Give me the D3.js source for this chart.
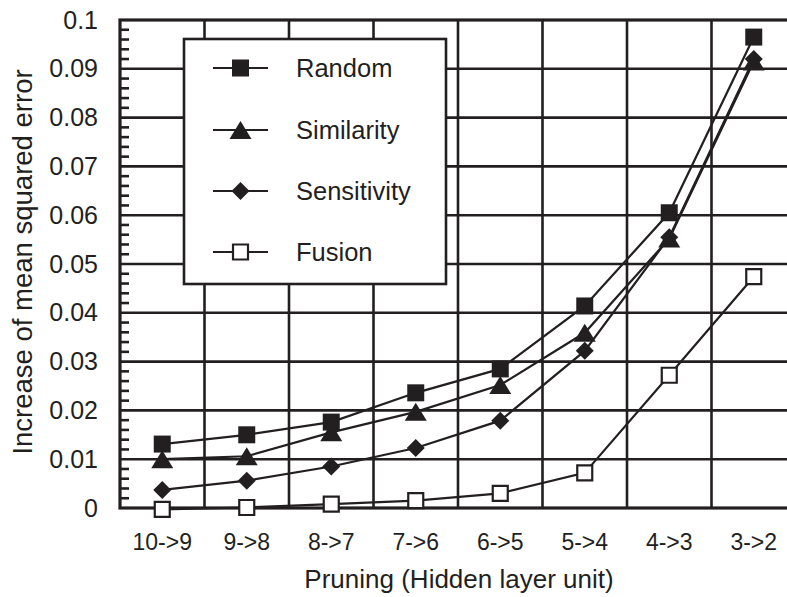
<!DOCTYPE html>
<html>
<head>
<meta charset="utf-8">
<script src="https://cdn.jsdelivr.net/npm/d3@7"></script>
<style>
  body { margin: 0; background: #fff; }
  text { font-family: "Liberation Sans", Arial, sans-serif; fill: #231f20; }
</style>
</head>
<body>
<div id="chart"></div>
<script>
var width = 787;
var height = 597;
var ink = "#231f20";

var categories = ["10->9", "9->8", "8->7", "7->6", "6->5", "5->4", "4->3", "3->2"];
var yTicks = [0, 0.01, 0.02, 0.03, 0.04, 0.05, 0.06, 0.07, 0.08, 0.09, 0.1];
var yTickLabels = ["0", "0.01", "0.02", "0.03", "0.04", "0.05", "0.06", "0.07", "0.08", "0.09", "0.1"];

var randomVals = [0.0131, 0.0150, 0.0176, 0.0236, 0.0285, 0.0414, 0.0605, 0.0965];
var similarityVals = [0.0100, 0.0106, 0.0155, 0.0197, 0.0252, 0.0359, 0.0552, 0.0915];
var sensitivityVals = [0.0037, 0.0056, 0.0085, 0.0123, 0.0179, 0.0322, 0.0555, 0.0920];
var fusionVals = [-0.0003, 0.0001, 0.0008, 0.0015, 0.0030, 0.0072, 0.0272, 0.0474];

var seriesNames = ["Random", "Similarity", "Sensitivity", "Fusion"];
var seriesMarks = ["square", "triangle", "diamond", "open"];
var seriesVals = [randomVals, similarityVals, sensitivityVals, fusionVals];

var plotLeft = 120, plotRight = 796, plotTop = 20, plotBottom = 508;

var x = d3.scalePoint().domain(categories).range([plotLeft, plotRight]).padding(0.5);
var y = d3.scaleLinear().domain([0, 0.1]).range([plotBottom, plotTop]);
var step = x.step();

var svg = d3.select("#chart").append("svg")
  .attr("width", width)
  .attr("height", height);

// grid lines
var grid = svg.append("g").attr("stroke", ink).attr("stroke-width", 2.6);
grid.selectAll("line.h")
  .data(yTicks.slice(1, -1))
  .enter()
  .append("line")
  .attr("x1", plotLeft).attr("x2", plotRight)
  .attr("y1", function(d) { return y(d); })
  .attr("y2", function(d) { return y(d); });
grid.selectAll("line.v")
  .data(categories.slice(0, -1))
  .enter()
  .append("line")
  .attr("x1", function(d) { return x(d) + step / 2; })
  .attr("x2", function(d) { return x(d) + step / 2; })
  .attr("y1", plotTop).attr("y2", plotBottom);

// minor ticks on the left axis
var minor = d3.range(0, 0.1001, 0.002).filter(function(v) { return Math.round(v * 1000) % 10 != 0; });
grid.selectAll("line.m")
  .data(minor)
  .enter()
  .append("line")
  .attr("x1", plotLeft).attr("x2", plotLeft + 9)
  .attr("y1", function(d) { return y(d); })
  .attr("y2", function(d) { return y(d); });

// frame
svg.append("rect")
  .attr("x", plotLeft).attr("y", plotTop)
  .attr("width", plotRight - plotLeft).attr("height", plotBottom - plotTop)
  .attr("fill", "none").attr("stroke", ink).attr("stroke-width", 3.2);

// y tick labels
svg.selectAll("text.yt")
  .data(yTicks)
  .enter()
  .append("text")
  .attr("x", 98)
  .attr("y", function(d) { return y(d) + 8.5; })
  .attr("text-anchor", "end")
  .attr("font-size", "25px")
  .text(function(d, i) { return yTickLabels[i]; });

// x tick labels
svg.selectAll("text.xt")
  .data(categories)
  .enter()
  .append("text")
  .attr("x", function(d) { return x(d); })
  .attr("y", 550)
  .attr("text-anchor", "middle")
  .attr("font-size", "23px")
  .text(function(d) { return d; });

svg.append("text")
  .attr("x", 459).attr("y", 588)
  .attr("text-anchor", "middle")
  .attr("font-size", "26px")
  .text("Pruning (Hidden layer unit)");

svg.append("text")
  .attr("transform", "translate(32," + ((plotTop + plotBottom) / 2 - 2) + ") rotate(-90)")
  .attr("text-anchor", "middle")
  .attr("font-size", "27.5px")
  .text("Increase of mean squared error");

function markPath(kind) {
  if (kind == "square") {
    return "M-8.5,-8.5H8.5V8.5H-8.5Z";
  } else if (kind == "open") {
    return "M-7.5,-7.5H7.5V7.5H-7.5Z";
  } else if (kind == "triangle") {
    return "M0,-9L11,9L-11,9Z";
  } else {
    return "M0,-9L9,0L0,9L-9,0Z";
  }
}

function drawMark(g, kind, cx, cy) {
  var p = g.append("path")
    .attr("d", markPath(kind))
    .attr("transform", "translate(" + cx + "," + cy + ")");
  if (kind == "open") {
    p.attr("fill", "#fff").attr("stroke", ink).attr("stroke-width", 2.2);
  } else {
    p.attr("fill", ink);
  }
}

var line = d3.line()
  .x(function(d, i) { return x(categories[i]); })
  .y(function(d) { return y(d); });

var plot = svg.append("g");
seriesVals.forEach(function(vals, s) {
  plot.append("path")
    .attr("d", line(vals))
    .attr("fill", "none")
    .attr("stroke", ink)
    .attr("stroke-width", 2.2);
});
seriesVals.forEach(function(vals, s) {
  vals.forEach(function(v, i) {
    drawMark(plot, seriesMarks[s], x(categories[i]), y(v));
  });
});

// legend
var legend = svg.append("g");
legend.append("rect")
  .attr("x", 184).attr("y", 39)
  .attr("width", 262).attr("height", 245)
  .attr("fill", "#fff").attr("stroke", ink).attr("stroke-width", 2.6);

var legendRows = [68, 130, 191, 252];
seriesNames.forEach(function(name, s) {
  var ly = legendRows[s];
  legend.append("line")
    .attr("x1", 213).attr("x2", 268)
    .attr("y1", ly).attr("y2", ly)
    .attr("stroke", ink).attr("stroke-width", 2.2);
  drawMark(legend, seriesMarks[s], 240.5, ly);
  legend.append("text")
    .attr("x", 296).attr("y", ly + 9)
    .attr("font-size", "25.5px")
    .text(name);
});
</script>
</body>
</html>
